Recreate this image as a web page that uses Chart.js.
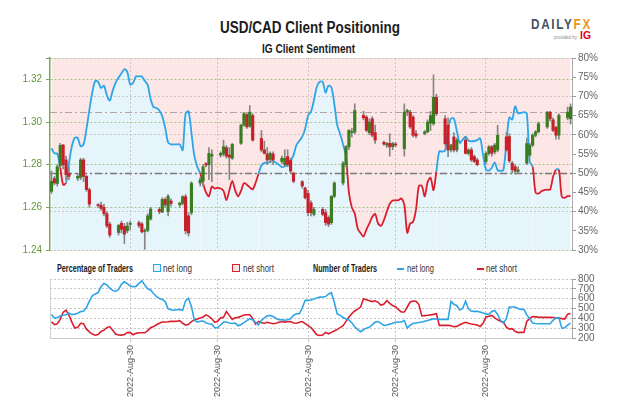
<!DOCTYPE html>
<html>
<head>
<meta charset="utf-8">
<script src="https://cdn.jsdelivr.net/npm/chart.js@4.4.0/dist/chart.umd.min.js"></script>
<style>
  html, body { margin: 0; padding: 0; background: #fff; }
  #wrap { position: relative; width: 624px; height: 416px; overflow: hidden;
          font-family: "Liberation Sans Narrow", "Liberation Sans", Arial, sans-serif; color: #1b1b1b; }
  .t { position: absolute; white-space: nowrap; line-height: 1; transform-origin: left top; }
  .b { font-weight: bold; }
  .box { position: absolute; width: 6px; height: 6px; border: 1.5px solid; }
  .seg { position: absolute; width: 7px; height: 2px; }
  canvas { position: absolute; left: 0; }
</style>
</head>
<body>
<div id="wrap">
  <div class="t b" data-w="180" style="left:220px;top:20px;font-size:16px;">USD/CAD Client Positioning</div>
  <div class="t b" data-w="93" style="left:262px;top:43px;font-size:12.5px;">IG Client Sentiment</div>

  <div class="t b" data-w="61" style="left:531px;top:17px;font-size:14px;letter-spacing:2px;"><span style="color:#46525f">DAILY</span><span style="color:#f39322">FX</span></div>
  <div class="t" data-w="23" style="left:554px;top:34px;font-size:6px;color:#8a8a8a;">provided by</div>
  <div class="t b" data-w="11" style="left:580px;top:31px;font-size:10px;color:#e2001a;">IG</div>

  <div class="t b" data-w="76" style="left:57px;top:264px;font-size:10px;">Percentage of Traders</div>
  <div class="box" style="left:153px;top:264px;border-color:#2fa4e7;background:#e6f4fc;"></div>
  <div class="t" data-w="29" style="left:163px;top:264px;font-size:10px;color:#333;">net long</div>
  <div class="box" style="left:232px;top:264px;border-color:#d91f2e;background:#fde6e6;"></div>
  <div class="t" data-w="31" style="left:243px;top:264px;font-size:10px;color:#333;">net short</div>

  <div class="t b" data-w="64" style="left:313px;top:264px;font-size:10px;">Number of Traders</div>
  <div class="seg" style="left:397px;top:268px;background:#2fa4e7;"></div>
  <div class="t" data-w="27" style="left:407px;top:264px;font-size:10px;color:#333;">net long</div>
  <div class="seg" style="left:477px;top:268px;background:#d91f2e;"></div>
  <div class="t" data-w="31" style="left:486px;top:264px;font-size:10px;color:#333;">net short</div>

  <canvas id="top" width="624" height="212" style="top:48px"></canvas>
  <canvas id="bottom" width="624" height="130" style="top:270px"></canvas>
</div>
<script>
// ---- data: one slot per calendar day ----
const DAYS = Array.from({ length: 179 }, (_, i) => i);
const MONTH_IDX = [27, 57, 88, 118, 149];
const MONTH_LABELS = ['2022-Aug-30', '2022-Aug-30', '2022-Aug-30', '2022-Aug-30', '2022-Aug-30'];
const PRICE_TICKS = [1.24, 1.26, 1.28, 1.30, 1.32, 1.33];
const REF_LEVELS = [50, 66];

// trading days that carry a candle
const CANDLE_DAY = [0,1,2,3,4,5,6, 9,10,11,12,13, 16,17,18,19,20, 23,24,25,26,27, 30,31,32,33,34,
  37,38,39,40,41, 44,45,46,47,48, 51,52,53,54,55, 58,59,60,61,62, 65,66,67,68,69, 72,73,74,75,76,
  79,80,81,82,83, 86,87,88,89,90, 93,94,95,96,97, 100,101,102,103,104, 107,108,109,110,111,
  114,115,116,117,118, 121,122,123,124,125, 128,129,130,131,132, 135,136,137,138,139,
  142,143,144,145,146, 149,150,151,152,153, 156,157,158,159,160, 163,164,165,166,167,
  170,171,172,173,174, 177,178];

const OPEN = [1.2675,1.2735,1.2712,1.2795,1.2892,1.2822,1.2760,
  1.2737,1.2740,1.2822,1.2745,1.2683, 1.2612,1.2610,1.2600,1.2570,1.2521,
  1.2482,1.2525,1.2510,1.2490,1.2520, 1.2528,1.2522,1.2487,1.2492,1.2545,
  1.2590,1.2578,1.2637,1.2580,1.2630, 1.2612,1.2618,1.2650,1.2560,1.2575,
  1.2714,1.2722,1.2805,1.2800,1.2840, 1.2845,1.2850,1.2880,1.2845,1.2830,
  1.2900,1.2985,1.3035,1.2980,1.3030, 1.2923,1.2869,1.2850,1.2825,1.2850,
  1.2815,1.2800,1.2838,1.2820,1.2760, 1.2720,1.2690,1.2665,1.2621,1.2567,
  1.2590,1.2575,1.2552,1.2528,1.2652, 1.2714,1.2800,1.2884,1.2950,1.2953,
  1.3031,1.3023,1.2950,1.3015,1.2950, 1.2905,1.2892,1.2900,1.2884,1.2895,
  1.2875,1.3046,1.3046,1.3023,1.2945, 1.2946,1.2954,1.2995,1.2992,1.3116,
  1.3015,1.2985,1.2869,1.2930,1.2869, 1.2915,1.2853,1.2869,1.2838,1.2822,
  1.2815,1.2853,1.2884,1.2860,1.2869, 1.2930,1.2932,1.2807,1.2790,1.2768,
  1.2807,1.2845,1.2892,1.2938,1.2954, 1.2977,1.3046,1.3010,1.2975,1.2938,
  1.3020,1.3015];
const HIGH = [1.2770,1.2745,1.2800,1.2900,1.2895,1.2840,1.2790,
  1.2760,1.2830,1.2830,1.2750,1.2690, 1.2618,1.2625,1.2615,1.2580,1.2530,
  1.2520,1.2535,1.2525,1.2530,1.2535, 1.2535,1.2530,1.2500,1.2570,1.2600,
  1.2600,1.2645,1.2645,1.2660,1.2640, 1.2625,1.2655,1.2660,1.2575,1.2720,
  1.2740,1.2800,1.2810,1.2880,1.2870, 1.2860,1.2915,1.2890,1.2880,1.2900,
  1.2990,1.3045,1.3040,1.3077,1.3040, 1.2960,1.2910,1.2880,1.2860,1.2860,
  1.2840,1.2870,1.2870,1.2830,1.2765, 1.2725,1.2695,1.2680,1.2630,1.2600,
  1.2600,1.2590,1.2560,1.2655,1.2720, 1.2815,1.2890,1.2965,1.2970,1.3085,
  1.3050,1.3030,1.3015,1.3025,1.2985, 1.2910,1.2905,1.2945,1.2905,1.2905,
  1.3085,1.3060,1.3055,1.3030,1.2960, 1.2960,1.3010,1.3050,1.3221,1.3130,
  1.3030,1.3020,1.2895,1.2950,1.2925, 1.2930,1.2875,1.2880,1.2845,1.2830,
  1.2860,1.2890,1.2890,1.2900,1.2985, 1.2950,1.2945,1.2815,1.2800,1.2790,
  1.2925,1.2900,1.2945,1.2960,1.3000, 1.3050,1.3050,1.3020,1.2980,1.3040,
  1.3070,1.3085];
const LOW = [1.2665,1.2705,1.2700,1.2790,1.2780,1.2729,1.2730,
  1.2725,1.2730,1.2720,1.2675,1.2600, 1.2600,1.2585,1.2560,1.2505,1.2460,
  1.2470,1.2480,1.2430,1.2480,1.2495, 1.2505,1.2480,1.2403,1.2485,1.2540,
  1.2570,1.2575,1.2600,1.2560,1.2605, 1.2600,1.2610,1.2475,1.2465,1.2565,
  1.2700,1.2700,1.2790,1.2730,1.2720, 1.2835,1.2840,1.2830,1.2730,1.2825,
  1.2895,1.2980,1.2970,1.2975,1.2910, 1.2860,1.2850,1.2800,1.2810,1.2800,
  1.2805,1.2795,1.2790,1.2760,1.2715, 1.2690,1.2640,1.2560,1.2560,1.2560,
  1.2560,1.2515,1.2510,1.2520,1.2645, 1.2705,1.2790,1.2870,1.2930,1.2945,
  1.3010,1.2955,1.2940,1.2930,1.2900, 1.2890,1.2880,1.2840,1.2870,1.2885,
  1.2840,1.3030,1.2970,1.2930,1.2925, 1.2940,1.2950,1.2960,1.2985,1.3030,
  1.2890,1.2838,1.2860,1.2860,1.2860, 1.2850,1.2845,1.2815,1.2810,1.2795,
  1.2805,1.2845,1.2840,1.2850,1.2860, 1.2860,1.2810,1.2760,1.2755,1.2760,
  1.2800,1.2838,1.2885,1.2930,1.2950, 1.2970,1.3005,1.2955,1.2920,1.2920,
  1.3010,1.2990];
const CLOSE = [1.2722,1.2714,1.2790,1.2890,1.2800,1.2753,1.2745,
  1.2745,1.2822,1.2745,1.2683,1.2615, 1.2608,1.2595,1.2570,1.2513,1.2470,
  1.2515,1.2497,1.2474,1.2513,1.2525, 1.2515,1.2485,1.2492,1.2560,1.2592,
  1.2580,1.2637,1.2612,1.2652,1.2618, 1.2620,1.2650,1.2490,1.2480,1.2713,
  1.2729,1.2790,1.2798,1.2853,1.2848, 1.2853,1.2884,1.2840,1.2835,1.2895,
  1.2985,1.3039,1.2977,1.3046,1.2915, 1.2869,1.2853,1.2822,1.2853,1.2822,
  1.2830,1.2830,1.2800,1.2770,1.2722, 1.2700,1.2645,1.2575,1.2575,1.2590,
  1.2567,1.2528,1.2521,1.2652,1.2714, 1.2807,1.2884,1.2961,1.2955,1.3054,
  1.3020,1.2961,1.3000,1.2938,1.2915, 1.2897,1.2899,1.2884,1.2899,1.2892,
  1.3046,1.3054,1.2977,1.2938,1.2935, 1.2954,1.3000,1.3030,1.3116,1.3039,
  1.2899,1.2869,1.2892,1.2869,1.2915, 1.2853,1.2869,1.2822,1.2815,1.2800,
  1.2853,1.2884,1.2853,1.2892,1.2938, 1.2869,1.2818,1.2776,1.2770,1.2776,
  1.2899,1.2892,1.2938,1.2954,1.2992, 1.3046,1.3015,1.2961,1.2938,1.3031,
  1.3046,1.3070];

// % of traders net long (right axis)
const NET_LONG_PCT = [56.5,55.2,55.1,51.5,47.0,47.5,52.5,57.0,59.2,59.2,
  57.0,57.5,61.5,66.5,71.0,74.0,73.8,72.2,72.8,70.3,
  68.9,71.5,73.6,74.9,76.0,77.1,76.4,73.1,73.5,75.2,
  75.2,75.2,74.0,73.0,69.3,67.2,67.0,66.3,64.8,61.8,
  58.0,57.5,57.5,57.5,57.5,56.0,65.5,66.1,60.5,54.5,
  51.7,50.0,47.3,45.0,44.0,46.5,46.0,46.2,46.0,45.4,
  43.0,45.5,48.0,45.5,44.0,45.4,47.4,47.0,46.3,45.8,
  47.5,49.8,52.0,52.7,52.7,52.9,53.2,52.7,52.2,51.6,
  51.8,52.2,53.2,54.7,57.3,58.4,59.5,61.6,65.0,66.0,
  69.0,72.5,73.8,73.8,71.0,72.8,72.3,68.0,62.5,60.2,
  57.5,54.3,45.0,41.1,39.5,35.6,34.4,33.5,35.3,36.9,
  38.6,39.4,36.9,36.3,37.8,40.0,42.0,42.9,42.9,43.0,
  43.4,41.8,34.5,36.9,37.3,40.5,46.7,46.7,44.0,47.7,
  48.8,45.6,50.5,55.7,55.6,55.9,61.5,64.2,64.2,61.0,
  57.9,58.7,59.5,58.5,58.3,58.4,58.6,59.1,54.8,51.0,
  50.7,51.4,52.8,50.8,50.6,50.9,58.0,64.5,64.0,67.4,
  65.6,65.7,65.9,65.5,53.0,51.7,45.0,44.7,45.3,45.6,
  45.7,45.7,49.0,50.9,50.9,43.9,43.6,44.0,44.0];

// number of traders
const LONG_COUNT = [440,403,408,424,432,437,453,438,443,452,
  468,471,510,575,628,648,662,723,755,740,
  707,684,674,694,746,772,753,728,721,725,
  756,782,738,700,688,652,622,602,591,570,
  497,488,482,487,491,482,580,603,520,382,
  362,371,372,354,345,340,305,305,332,362,
  362,353,348,352,325,338,357,376,396,385,
  360,334,380,405,425,429,418,398,386,386,
  380,385,395,430,447,447,505,583,583,586,
  596,606,616,617,621,648,661,561,445,430,
  409,393,383,355,315,285,264,284,300,308,
  333,362,368,348,328,333,341,351,360,362,
  362,379,300,330,347,353,358,362,370,377,
  387,396,392,389,389,389,389,573,543,528,
  485,500,575,497,473,471,471,465,454,445,
  439,470,480,440,380,350,400,515,515,515,
  500,491,491,435,395,352,347,345,345,345,
  345,345,380,405,407,300,305,330,352];
const SHORT_COUNT = [365,337,344,390,462,483,432,362,301,308,
  350,345,290,262,240,228,235,266,280,305,
  316,278,240,230,229,235,255,255,233,247,
  253,253,253,275,305,316,335,350,362,362,
  365,369,369,370,376,350,330,340,366,383,
  394,403,414,435,420,395,360,370,405,410,
  470,430,388,405,410,420,434,437,437,400,
  340,368,355,350,360,352,345,350,360,368,
  362,366,367,352,350,360,367,346,325,306,
  270,233,225,230,257,243,257,272,288,305,
  326,369,410,448,475,493,515,600,590,580,
  570,578,563,532,545,580,553,530,519,488,
  464,464,515,566,576,573,540,424,428,431,
  435,440,447,328,328,328,328,325,315,318,
  334,348,360,350,343,338,333,318,350,415,
  422,430,405,385,370,361,310,290,295,268,
  255,259,256,368,400,418,415,412,410,410,
  410,410,408,405,402,397,393,442,450];

// ---- styles ----
const BLUE = '#2fa4e7';
const RED = '#d91f2e';
const UP = '#3a7d1f';
const DOWN = '#c8202b';
const WICK = '#858585';
const GREEN_TXT = '#62973a';
const GREEN_AXIS = '#78a84e';
const GRID_GREY = '#c9c3c3';
const REF_COLORS = ['#7a7a7a', '#b3a4a4'];

Chart.defaults.font.family = '"Liberation Sans Narrow", "Liberation Sans", Arial, sans-serif';
Chart.defaults.animation = false;
Chart.defaults.events = [];
Chart.defaults.plugins.legend.display = false;
Chart.defaults.plugins.tooltip.enabled = false;

const monthGrid = ctx => (MONTH_IDX.includes(ctx.index) ? GRID_GREY : 'rgba(0,0,0,0)');

// dash-dot reference levels on the % axis
const refLines = {
  id: 'refLines',
  beforeDatasetsDraw(chart) {
    const { ctx, chartArea: a } = chart;
    const y = chart.scales.pct;
    REF_LEVELS.forEach((v, k) => {
      const py = Math.round(y.getPixelForValue(v)) + 0.5;
      ctx.save();
      ctx.strokeStyle = REF_COLORS[k];
      ctx.lineWidth = k === 0 ? 1.5 : 1.2;
      ctx.setLineDash([7, 3, 2, 3]);
      ctx.beginPath();
      ctx.moveTo(a.left, py);
      ctx.lineTo(a.right, py);
      ctx.stroke();
      ctx.restore();
    });
  }
};

new Chart(document.getElementById('top'), {
  data: {
    labels: DAYS,
    datasets: [
      {
        type: 'bar', yAxisID: 'price', order: 0, grouped: false,
        data: CANDLE_DAY.map((d, k) => ({ x: d, y: [OPEN[k], CLOSE[k]] })),
        backgroundColor: CANDLE_DAY.map((d, k) => (CLOSE[k] >= OPEN[k] ? UP : DOWN)),
        barThickness: 2.5, minBarLength: 1
      },
      {
        type: 'bar', yAxisID: 'price', order: 1, grouped: false,
        data: CANDLE_DAY.map((d, k) => ({ x: d, y: [LOW[k], HIGH[k]] })),
        backgroundColor: WICK, barThickness: 1
      },
      {
        type: 'line', yAxisID: 'pct', order: 2, data: NET_LONG_PCT,
        borderColor: BLUE, borderWidth: 1.8, pointRadius: 0, tension: 0.3,
        segment: { borderColor: c => ((c.p0.parsed.y + c.p1.parsed.y) / 2 < 50 ? RED : BLUE) },
        fill: 'start', backgroundColor: '#e6f4fc'
      },
      {
        type: 'line', yAxisID: 'pct', order: 3, data: NET_LONG_PCT,
        borderColor: 'rgba(0,0,0,0)', borderWidth: 0, pointRadius: 0, tension: 0.3,
        fill: 'end', backgroundColor: '#fde6e6'
      }
    ]
  },
  options: {
    responsive: false,
    layout: { padding: { top: 9, bottom: 9, left: 0, right: 0 } },
    plugins: { filler: { drawTime: 'beforeDraw' } },
    scales: {
      x: {
        type: 'category', offset: true,
        ticks: { display: false, autoSkip: false },
        grid: { offset: false, drawTicks: false, color: monthGrid },
        border: { display: false, dash: [2, 2] },
        afterFit: s => { s.height = 0; }
      },
      price: {
        position: 'left', min: 1.24, max: 1.33,
        afterBuildTicks: s => { s.ticks = PRICE_TICKS.map(v => ({ value: v })); },
        afterFit: s => { s.width = 50; },
        ticks: {
          color: GREEN_TXT, font: { size: 10 }, padding: 4, autoSkip: false,
          callback: v => (v < 1.325 ? v.toFixed(2) : '')
        },
        grid: { color: '#a9c48c', tickColor: GREEN_AXIS, tickLength: 4 },
        border: { color: GREEN_AXIS, width: 1.5, dash: [2, 2] }
      },
      pct: {
        position: 'right', min: 30, max: 80,
        afterFit: s => { s.width = 52; },
        ticks: { stepSize: 5, autoSkip: false, color: '#666', font: { size: 10 }, padding: 2, callback: v => v + '%' },
        grid: {
          color: c => (c.tick.value % 10 === 0 ? GRID_GREY : 'rgba(0,0,0,0)'),
          tickColor: '#9a9a9a', tickLength: 4
        },
        border: { color: '#a9a9a9', dash: [2, 2] }
      }
    }
  },
  plugins: [refLines]
});

new Chart(document.getElementById('bottom'), {
  type: 'line',
  data: {
    labels: DAYS,
    datasets: [
      { data: LONG_COUNT, yAxisID: 'n', borderColor: BLUE, borderWidth: 1.6, pointRadius: 0, tension: 0 },
      { data: SHORT_COUNT, yAxisID: 'n', borderColor: RED, borderWidth: 1.6, pointRadius: 0, tension: 0 }
    ]
  },
  options: {
    responsive: false,
    layout: { padding: { top: 9, bottom: 0, left: 0, right: 0 } },
    scales: {
      x: {
        offset: true,
        afterFit: s => { s.height = 62; },
        ticks: {
          autoSkip: false, minRotation: 90, maxRotation: 90, padding: 3,
          color: '#555', font: { size: 9 },
          callback: (v, i) => {
            const k = MONTH_IDX.indexOf(i);
            return k >= 0 ? MONTH_LABELS[k] : '';
          }
        },
        grid: { offset: false, color: monthGrid, tickColor: monthGrid, tickLength: 4 },
        border: { color: '#c8c8c8', dash: [2, 2] }
      },
      n: {
        position: 'right', min: 200, max: 800,
        afterFit: s => { s.width = 52; },
        ticks: { stepSize: 100, autoSkip: false, color: '#666', font: { size: 10 }, padding: 2 },
        grid: { color: GRID_GREY, tickColor: '#9a9a9a', tickLength: 4 },
        border: { color: '#a9a9a9', dash: [2, 2] }
      },
      nl: {
        position: 'left', min: 200, max: 800,
        afterFit: s => { s.width = 50; },
        ticks: { display: false },
        grid: { display: false, drawTicks: false },
        border: { color: '#d0d0d0' }
      }
    }
  }
});

// squeeze html labels to the widths seen in the reference
document.querySelectorAll('.t[data-w]').forEach(el => {
  const w = el.getBoundingClientRect().width;
  if (w > 0) el.style.transform = 'scaleX(' + (+el.dataset.w / w).toFixed(3) + ')';
});
</script>
</body>
</html>
